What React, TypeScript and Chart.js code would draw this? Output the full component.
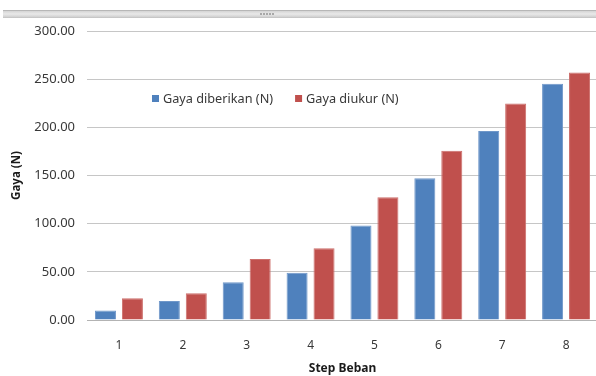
import React, { useEffect, useRef } from "react";
import { Chart, registerables } from "chart.js";

Chart.register(...registerables);

// Load steps and force values (N)
const steps = ["1", "2", "3", "4", "5", "6", "7", "8"];
const gayaDiberikan = [9.81, 19.62, 39.24, 49.05, 98.1, 147.15, 196.2, 245.25];
const gayaDiukur = [22.5, 27.7, 63.3, 74.4, 127.3, 175.6, 224.8, 257.0];
const seriesLabels = ["Gaya diberikan (N)", "Gaya diukur (N)"];
const seriesColors = ["#4F81BD", "#C0504D"];
const seriesEdges = ["#6f97c9", "#cc6e6b"];
const xTitle = "Step Beban";
const yTitle = "Gaya (N)";
const yMin = 0;
const yMax = 300;
const yStep = 50;

const FONT = "'Noto Sans', 'Open Sans', sans-serif";
const TEXT = "#383838";

// Legend drawn inside the plot area, in one row
const insideLegend = {
  id: "insideLegend",
  afterDraw(chart: any) {
    const { ctx, chartArea } = chart;
    ctx.save();
    ctx.font = `12.7px ${FONT}`;
    ctx.textBaseline = "middle";
    let x = chartArea.left + 65;
    const y = chartArea.top + 68;
    chart.data.datasets.forEach((ds: any) => {
      ctx.fillStyle = ds.backgroundColor;
      ctx.fillRect(x, y - 4, 7, 7);
      x += 11;
      ctx.fillStyle = TEXT;
      ctx.fillText(ds.label, x, y);
      x += ctx.measureText(ds.label).width + 22;
    });
    ctx.restore();
  },
};

export default function App() {
  const canvasRef = useRef<HTMLCanvasElement | null>(null);

  useEffect(() => {
    if (!canvasRef.current) return;
    const chart = new Chart(canvasRef.current, {
      type: "bar",
      data: {
        labels: steps,
        datasets: [
          {
            label: seriesLabels[0],
            data: gayaDiberikan,
            backgroundColor: seriesColors[0],
            borderColor: seriesEdges[0],
            borderWidth: 1,
            categoryPercentage: 0.844,
            barPercentage: 0.78,
          },
          {
            label: seriesLabels[1],
            data: gayaDiukur,
            backgroundColor: seriesColors[1],
            borderColor: seriesEdges[1],
            borderWidth: 1,
            categoryPercentage: 0.844,
            barPercentage: 0.78,
          },
        ],
      },
      options: {
        responsive: false,
        animation: false,
        layout: { padding: { top: 31, right: 2, left: 0, bottom: 0 } },
        plugins: {
          legend: { display: false },
          tooltip: { enabled: false },
        },
        scales: {
          x: {
            grid: { display: false, drawTicks: false },
            border: { display: true, color: "#b3b3b3", width: 1 },
            ticks: {
              padding: 18,
              color: TEXT,
              font: { family: FONT, size: 12 },
            },
            title: {
              display: true,
              text: xTitle,
              color: "#1a1a1a",
              font: { family: FONT, size: 12, weight: "bold" },
              padding: { top: 0, bottom: 0 },
            },
            afterFit: (s: any) => {
              s.height = 56;
            },
          },
          y: {
            min: yMin,
            max: yMax,
            grid: { color: "#c6c6c6", lineWidth: 1, drawTicks: false },
            border: { display: false },
            ticks: {
              stepSize: yStep,
              padding: 12,
              color: TEXT,
              font: { family: FONT, size: 13 },
              callback: (v: any) => Number(v).toFixed(2),
            },
            title: {
              display: true,
              text: yTitle,
              color: "#1a1a1a",
              font: { family: FONT, size: 11.5, weight: "bold" },
              padding: { top: 10, bottom: 10 },
            },
            afterFit: (s: any) => {
              s.width = 87;
            },
          },
        },
      },
      plugins: [insideLegend],
    });
    return () => chart.destroy();
  }, []);

  return (
    <div
      style={{
        position: "fixed",
        left: 0,
        top: 0,
        width: 596,
        height: 376,
        overflow: "hidden",
        background: "#ffffff",
      }}
    >
      <div
        style={{
          position: "absolute",
          left: 3,
          right: 0,
          top: 10,
          height: 8,
          background: "linear-gradient(#9a9a9a 0px, #d4d4d4 1px, #e9e9e9 4px, #d0d0d0 7px, #bdbdbd 8px)",
        }}
      >
        <div
          style={{
            position: "absolute",
            left: 257,
            top: 3,
            width: 14,
            height: 2,
            backgroundImage: "repeating-linear-gradient(90deg, #a8a8a8 0 2px, transparent 2px 3px)",
          }}
        />
      </div>
      <canvas
        ref={canvasRef}
        width={600}
        height={376}
        style={{ position: "absolute", left: 0, top: 0, width: 600, height: 376 }}
      />
    </div>
  );
}
